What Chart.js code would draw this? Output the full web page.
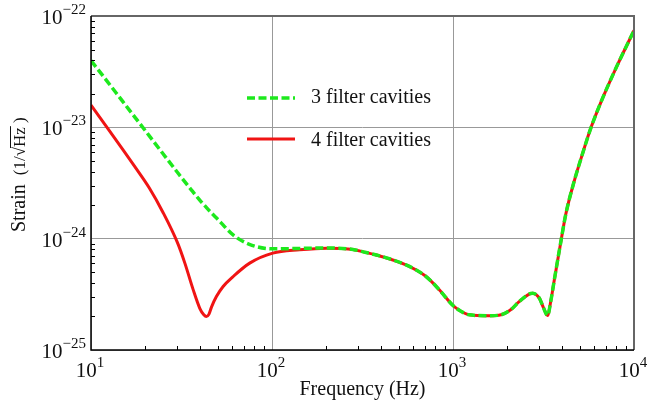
<!DOCTYPE html>
<html>
<head>
<meta charset="utf-8">
<script src="https://cdn.jsdelivr.net/npm/chart.js@4.4.0/dist/chart.umd.min.js"></script>
<style>
  html, body { margin: 0; padding: 0; background: #fff; }
</style>
</head>
<body>
<canvas id="noiseChart" width="650" height="406"></canvas>
<script>
// --- DATA ---
// 3 filter cavities
const freq3 = [10, 12.2, 15, 17.5, 21, 25, 30, 36, 40, 43, 46, 50, 61, 75, 100, 140, 200, 280,
  331, 377, 550, 710, 840, 1000, 1100, 1230, 1590, 1840, 2100, 2320, 2750, 3000, 3160, 3330,
  3470, 3620, 3950, 4200, 4680, 5200, 5780, 6700, 7940, 10000];
const strain3 = [3.98e-23, 2.63e-23, 1.70e-23, 1.23e-23, 8.37e-24, 5.79e-24, 3.95e-24, 2.72e-24,
  2.21e-24, 1.94e-24, 1.72e-24, 1.50e-24, 1.08e-24, 8.9e-25, 8.1e-25, 8.17e-25, 8.26e-25, 8.0e-25,
  7.5e-25, 7.14e-25, 5.81e-25, 4.57e-25, 3.47e-25, 2.51e-25, 2.24e-25, 2.07e-25, 2.03e-25,
  2.07e-25, 2.32e-25, 2.72e-25, 3.24e-25, 2.92e-25, 2.40e-25, 2.04e-25, 2.75e-25, 4.17e-25,
  9.55e-25, 1.66e-24, 3.31e-24, 5.82e-24, 9.89e-24, 1.82e-23, 3.39e-23, 7.41e-23];

// 4 filter cavities
const freq4 = [10, 12.2, 15, 17.5, 21, 25, 30, 33, 36.6, 39.9, 42, 43.4, 44.8, 46.3, 49.3, 53.7,
  61, 75.3, 101, 142, 200, 280, 331, 377, 550, 710, 840, 1000, 1100, 1230, 1590, 1840, 2100,
  2320, 2750, 3000, 3160, 3330, 3470, 3620, 3950, 4200, 4680, 5200, 5780, 6700, 7940, 10000];
const strain4 = [1.58e-23, 1.01e-23, 6.31e-24, 4.41e-24, 2.85e-24, 1.72e-24, 9.25e-25, 6.03e-25,
  3.52e-25, 2.37e-25, 2.07e-25, 2.0e-25, 2.09e-25, 2.43e-25, 3.02e-25, 3.72e-25, 4.57e-25,
  6.03e-25, 7.41e-25, 7.94e-25, 8.22e-25, 8.0e-25, 7.5e-25, 7.14e-25, 5.81e-25, 4.57e-25,
  3.47e-25, 2.51e-25, 2.24e-25, 2.07e-25, 2.03e-25, 2.07e-25, 2.32e-25, 2.72e-25, 3.24e-25,
  2.92e-25, 2.40e-25, 2.04e-25, 2.75e-25, 4.17e-25, 9.55e-25, 1.66e-24, 3.31e-24, 5.82e-24,
  9.89e-24, 1.82e-23, 3.39e-23, 7.41e-23];

const xTickExp = [1, 2, 3, 4];
const yTickExp = [-25, -24, -23, -22];
const seriesNames = ["3 filter cavities", "4 filter cavities"];

const GREEN = "#1de91d";
const RED = "#f01414";
const SERIF = '"Liberation Serif", "DejaVu Serif", serif';

// --- "10^n" labels ---
function drawPower(ctx, exp, x, y, align) {
  const base = "10";
  const sup = String(exp).replace("-", "\u2212");
  ctx.font = "21px " + SERIF;
  const wb = ctx.measureText(base).width;
  ctx.font = "15px " + SERIF;
  const ws = ctx.measureText(sup).width;
  const x0 = align === "right" ? x - wb - ws : x - (wb + ws) / 2;
  ctx.font = "21px " + SERIF;
  ctx.fillText(base, x0, y);
  ctx.font = "15px " + SERIF;
  ctx.fillText(sup, x0 + wb, y - 10);
}

// --- frame, minor ticks, labels, legend ---
const decor = {
  id: "decor",
  afterDraw(chart) {
    const ctx = chart.ctx;
    const { left, right, top, bottom } = chart.chartArea;
    const xs = chart.scales.x, ys = chart.scales.y;
    ctx.save();

    // minor ticks (inside, left and bottom)
    ctx.strokeStyle = "#000";
    ctx.lineWidth = 1;
    ctx.beginPath();
    for (let d = -25; d < -22; d++) {
      for (let m = 2; m <= 9; m++) {
        const py = Math.round(ys.getPixelForValue(m * Math.pow(10, d))) + 0.5;
        ctx.moveTo(left, py);
        ctx.lineTo(left + 4, py);
      }
    }
    for (let d = 1; d < 4; d++) {
      for (let m = 2; m <= 9; m++) {
        const px = Math.round(xs.getPixelForValue(m * Math.pow(10, d))) + 0.5;
        ctx.moveTo(px, bottom);
        ctx.lineTo(px, bottom - 4);
      }
    }
    ctx.stroke();

    // frame
    ctx.strokeStyle = "#666";
    ctx.lineWidth = 2;
    ctx.beginPath();
    ctx.moveTo(left, top);
    ctx.lineTo(right, top);
    ctx.lineTo(right, bottom);
    ctx.stroke();
    ctx.strokeStyle = "#000";
    ctx.lineWidth = 1.5;
    ctx.beginPath();
    ctx.moveTo(left, top);
    ctx.lineTo(left, bottom);
    ctx.lineTo(right, bottom);
    ctx.stroke();

    // tick labels
    ctx.fillStyle = "#111";
    ctx.textBaseline = "alphabetic";
    ctx.textAlign = "left";
    yTickExp.forEach((e) => {
      drawPower(ctx, e, left - 5, ys.getPixelForValue(Math.pow(10, e)) + 8, "right");
    });
    xTickExp.forEach((e) => {
      drawPower(ctx, e, xs.getPixelForValue(Math.pow(10, e)) - 1, bottom + 27, "center");
    });

    // x title
    ctx.font = "20px " + SERIF;
    ctx.textAlign = "center";
    ctx.fillText("Frequency (Hz)", (left + right) / 2, 395);

    // y title, with the radical bar over Hz
    ctx.save();
    ctx.translate(25, 232);
    ctx.rotate(-Math.PI / 2);
    ctx.textAlign = "left";
    ctx.font = "20px " + SERIF;
    ctx.fillText("Strain", 0, 0);
    const u0 = ctx.measureText("Strain").width + 9;
    ctx.font = "17px " + SERIF;
    ctx.fillText("(1/\u221AHz )", u0, 0);
    const wPre = ctx.measureText("(1/\u221A").width;
    const wHz = ctx.measureText("Hz").width;
    ctx.strokeStyle = "#111";
    ctx.lineWidth = 1;
    ctx.beginPath();
    ctx.moveTo(u0 + wPre - 1, -14.5);
    ctx.lineTo(u0 + wPre + wHz + 1, -14.5);
    ctx.stroke();
    ctx.restore();

    // legend
    const legend = [
      { y: 98, color: GREEN, width: 3.5, dash: [8, 3.5], text: seriesNames[0], base: 103 },
      { y: 139, color: RED, width: 3, dash: [], text: seriesNames[1], base: 146 },
    ];
    legend.forEach((l) => {
      ctx.strokeStyle = l.color;
      ctx.lineWidth = l.width;
      ctx.setLineDash(l.dash);
      ctx.beginPath();
      ctx.moveTo(247, l.y);
      ctx.lineTo(295, l.y);
      ctx.stroke();
      ctx.setLineDash([]);
      ctx.fillStyle = "#111";
      ctx.font = "20px " + SERIF;
      ctx.textAlign = "left";
      ctx.fillText(l.text, 311, l.base);
    });

    ctx.restore();
  },
};

function logAxis(min, max, exps) {
  return {
    type: "logarithmic",
    min: min,
    max: max,
    afterBuildTicks: (s) => {
      s.ticks = exps.map((e) => ({ value: Math.pow(10, e) }));
    },
    ticks: { display: false },
    grid: { color: "#999", lineWidth: 1, drawTicks: false },
    border: { display: false },
    title: { display: false },
  };
}

new Chart(document.getElementById("noiseChart"), {
  type: "line",
  data: {
    datasets: [
      {
        label: seriesNames[0],
        data: freq3.map((f, i) => ({ x: f, y: strain3[i] })),
        borderColor: GREEN,
        borderWidth: 3.5,
        borderDash: [8, 3.5],
        pointRadius: 0,
        cubicInterpolationMode: "monotone",
      },
      {
        label: seriesNames[1],
        data: freq4.map((f, i) => ({ x: f, y: strain4[i] })),
        borderColor: RED,
        borderWidth: 3,
        pointRadius: 0,
        cubicInterpolationMode: "monotone",
      },
    ],
  },
  options: {
    responsive: false,
    animation: false,
    devicePixelRatio: 1,
    layout: { padding: { left: 91, right: 16, top: 16, bottom: 56 } },
    plugins: { legend: { display: false }, tooltip: { enabled: false } },
    scales: {
      x: logAxis(10, 10000, xTickExp),
      y: logAxis(1e-25, 1e-22, yTickExp),
    },
  },
  plugins: [decor],
});
</script>
</body>
</html>
